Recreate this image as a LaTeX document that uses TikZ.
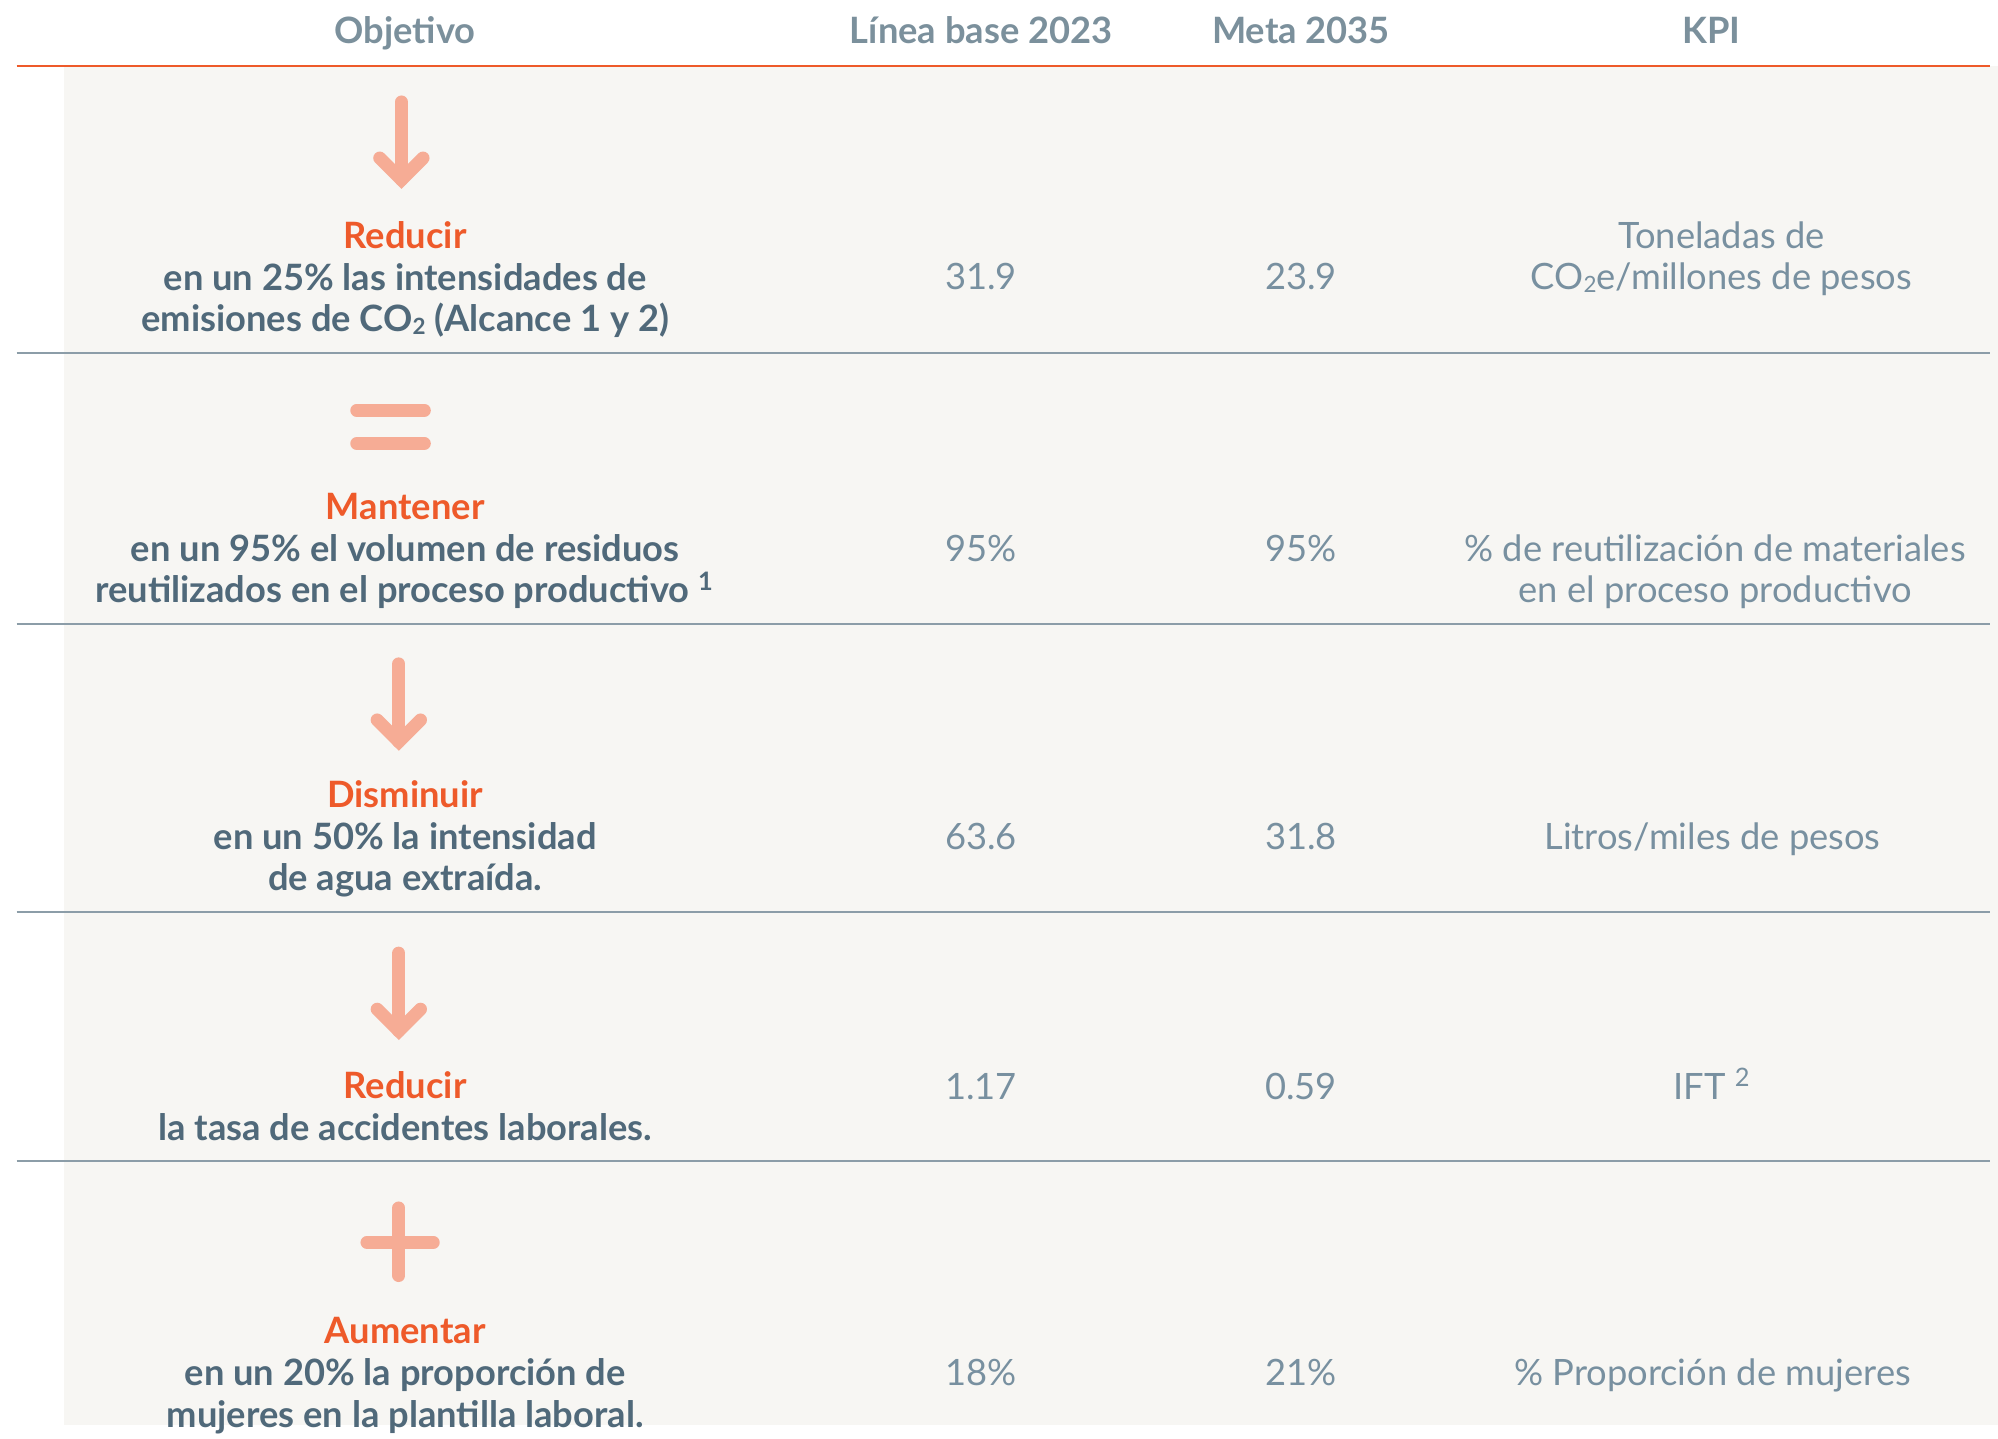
\documentclass[tikz,border=0pt]{standalone}
\usepackage{fontspec}
\setmainfont{Lato}
\usetikzlibrary{positioning}
\definecolor{hdrgray}{HTML}{7B909C}
\definecolor{objgray}{HTML}{50697A}
\definecolor{valgray}{HTML}{7890A0}
\definecolor{verbred}{HTML}{EE5A2A}
\definecolor{iconpink}{HTML}{F6AC95}
\definecolor{rulegray}{HTML}{8C9DA8}
\definecolor{panelbg}{HTML}{F7F6F3}
\newcommand{\cellfont}{\fontsize{8.1}{9.3}\selectfont}
\newcommand{\subtwo}{\raisebox{-0.15ex}{\fontsize{5}{5}\selectfont 2}}

\begin{document}
\begin{tikzpicture}[x=0.01cm,y=-0.01cm,
  hdr/.style={anchor=base, inner sep=0pt, font=\cellfont\bfseries, text=hdrgray},
  obj/.style={anchor=base, inner sep=0pt, align=center,
              font=\cellfont\bfseries, text=objgray},
  val/.style={anchor=base, inner sep=0pt, align=center,
              font=\cellfont, text=valgray},
  icon/.style={draw=iconpink, line width=2.9pt, line cap=round},
  rowrule/.style={draw=rulegray, line width=0.45pt},
]
  \useasboundingbox (0,0) rectangle (1568,1129);
  \fill[panelbg] (50,52) rectangle (1568,1118);

  % header
  \node[hdr] (hobj)  at (318,34) {Objetivo};
  \node[hdr] (hbase) at (770,34) {Línea base 2023};
  \node[hdr] (hmeta) at (1021,34) {Meta 2035};
  \node[hdr] (hkpi)  at (1343,34) {KPI};
  \draw[draw=verbred, line width=0.5pt] (13,51.5) -- (1562,51.5);

  % rules between rows
  \foreach \y in {277,490,716,911}
    \draw[rowrule] (13,\y) -- (1562,\y);

  % icons
  \foreach \x/\y in {315/80, 313/521, 313/748} {
    \draw[icon] (\x,\y) -- (\x,\y+61);
    \draw[icon, line join=miter] (\x-17,\y+44) -- (\x,\y+61) -- (\x+17,\y+44);
  }
  \draw[icon] (280,322) -- (333,322);
  \draw[icon] (280,348) -- (333,348);
  \draw[icon] (313,948) -- (313,1001);
  \draw[icon] (288,975) -- (340,975);

  % row 1 (base = last line)
  \node[obj] (obj1) at (318,260.5) {\textcolor{verbred}{Reducir}\\
    en un 25\% las intensidades de\\
    emisiones de CO\subtwo{} (Alcance 1 y 2)};
  \node[val] (base1) at (770,227.5) {31.9};
  \node[val] (meta1) at (1021,227.5) {23.9};
  \node[val] (kpi1) at (1351,227.5) {Toneladas de\\CO\subtwo{}e/millones de pesos};

  % row 2
  \node[obj] (obj2) at (318,473) {\textcolor{verbred}{Mantener}\\
    en un 95\% el volumen de residuos\\
    reutilizados en el proceso productivo \textsuperscript{1}};
  \node[val] (base2) at (770,440.5) {95\%};
  \node[val] (meta2) at (1021,440.5) {95\%};
  \node[val] (kpi2) at (1346,473) {\% de reutilización de materiales\\en el proceso productivo};

  % row 3
  \node[obj] (obj3) at (318,699) {\textcolor{verbred}{Disminuir}\\
    en un 50\% la intensidad\\
    de agua extraída.};
  \node[val] (base3) at (770,666.5) {63.6};
  \node[val] (meta3) at (1021,666.5) {31.8};
  \node[val] (kpi3) at (1344,666.5) {Litros/miles de pesos};

  % row 4
  \node[obj] (obj4) at (318,895) {\textcolor{verbred}{Reducir}\\
    la tasa de accidentes laborales.};
  \node[val] (base4) at (770,862.5) {1.17};
  \node[val] (meta4) at (1021,862.5) {0.59};
  \node[val] (kpi4) at (1344,862.5) {IFT \textsuperscript{2}};

  % row 5
  \node[obj] (obj5) at (318,1120) {\textcolor{verbred}{Aumentar}\\
    en un 20\% la proporción de\\
    mujeres en la plantilla laboral.};
  \node[val] (base5) at (770,1087.5) {18\%};
  \node[val] (meta5) at (1021,1087.5) {21\%};
  \node[val] (kpi5) at (1344,1087.5) {\% Proporción de mujeres};
\end{tikzpicture}
\end{document}
